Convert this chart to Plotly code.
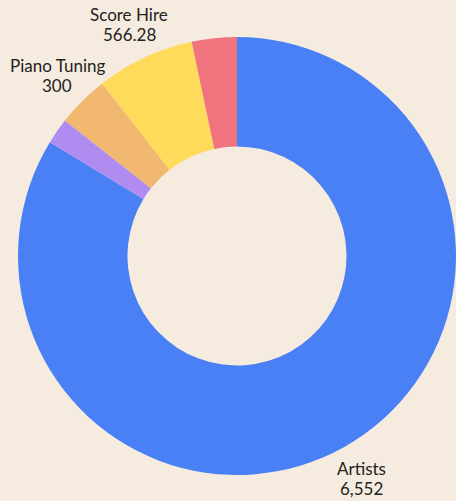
import math
import plotly.graph_objects as go

labels = ["Artists", "Other", "Piano Tuning", "Score Hire", "Misc"]
values = [6552, 150, 300, 566.28, 260]
value_texts = ["6,552", "", "300", "566.28", ""]
show_label = [True, False, True, True, False]
colors = ["#4A80F6", "#B18CF0", "#F2B870", "#FFDB5C", "#F0737D"]

fig = go.Figure(go.Pie(
    labels=labels,
    values=values,
    textinfo="none",
    hole=0.5,
    sort=False,
    direction="clockwise",
    rotation=0,
    automargin=False,
    marker=dict(colors=colors, line=dict(width=0)),
    showlegend=False,
))

# outside labels placed along each slice's mid angle
total = sum(values)
label_r = 0.582  # in paper units (pie radius = 0.5)
cum = 0.0
font = dict(family="Lato", size=17, color="#222222")
for lab, val, vt, show in zip(labels, values, value_texts, show_label):
    mid = (cum + val / 2.0) / total * 2 * math.pi
    cum += val
    if not show:
        continue
    x = 0.5 + label_r * math.sin(mid)
    y = 0.5 + label_r * math.cos(mid)
    fig.add_annotation(x=x, y=y, xref="paper", yref="paper", text=lab,
                       showarrow=False, xanchor="center", yanchor="middle",
                       yshift=10, font=font)
    fig.add_annotation(x=x, y=y, xref="paper", yref="paper", text=vt,
                       showarrow=False, xanchor="center", yanchor="middle",
                       yshift=-10, font=font)

fig.update_layout(
    width=456,
    height=501,
    margin=dict(l=18, r=0, t=37, b=26),
    paper_bgcolor="#F5ECDF",
    plot_bgcolor="#F5ECDF",
    font=dict(family="Lato"),
)

fig.write_html("out.html")
